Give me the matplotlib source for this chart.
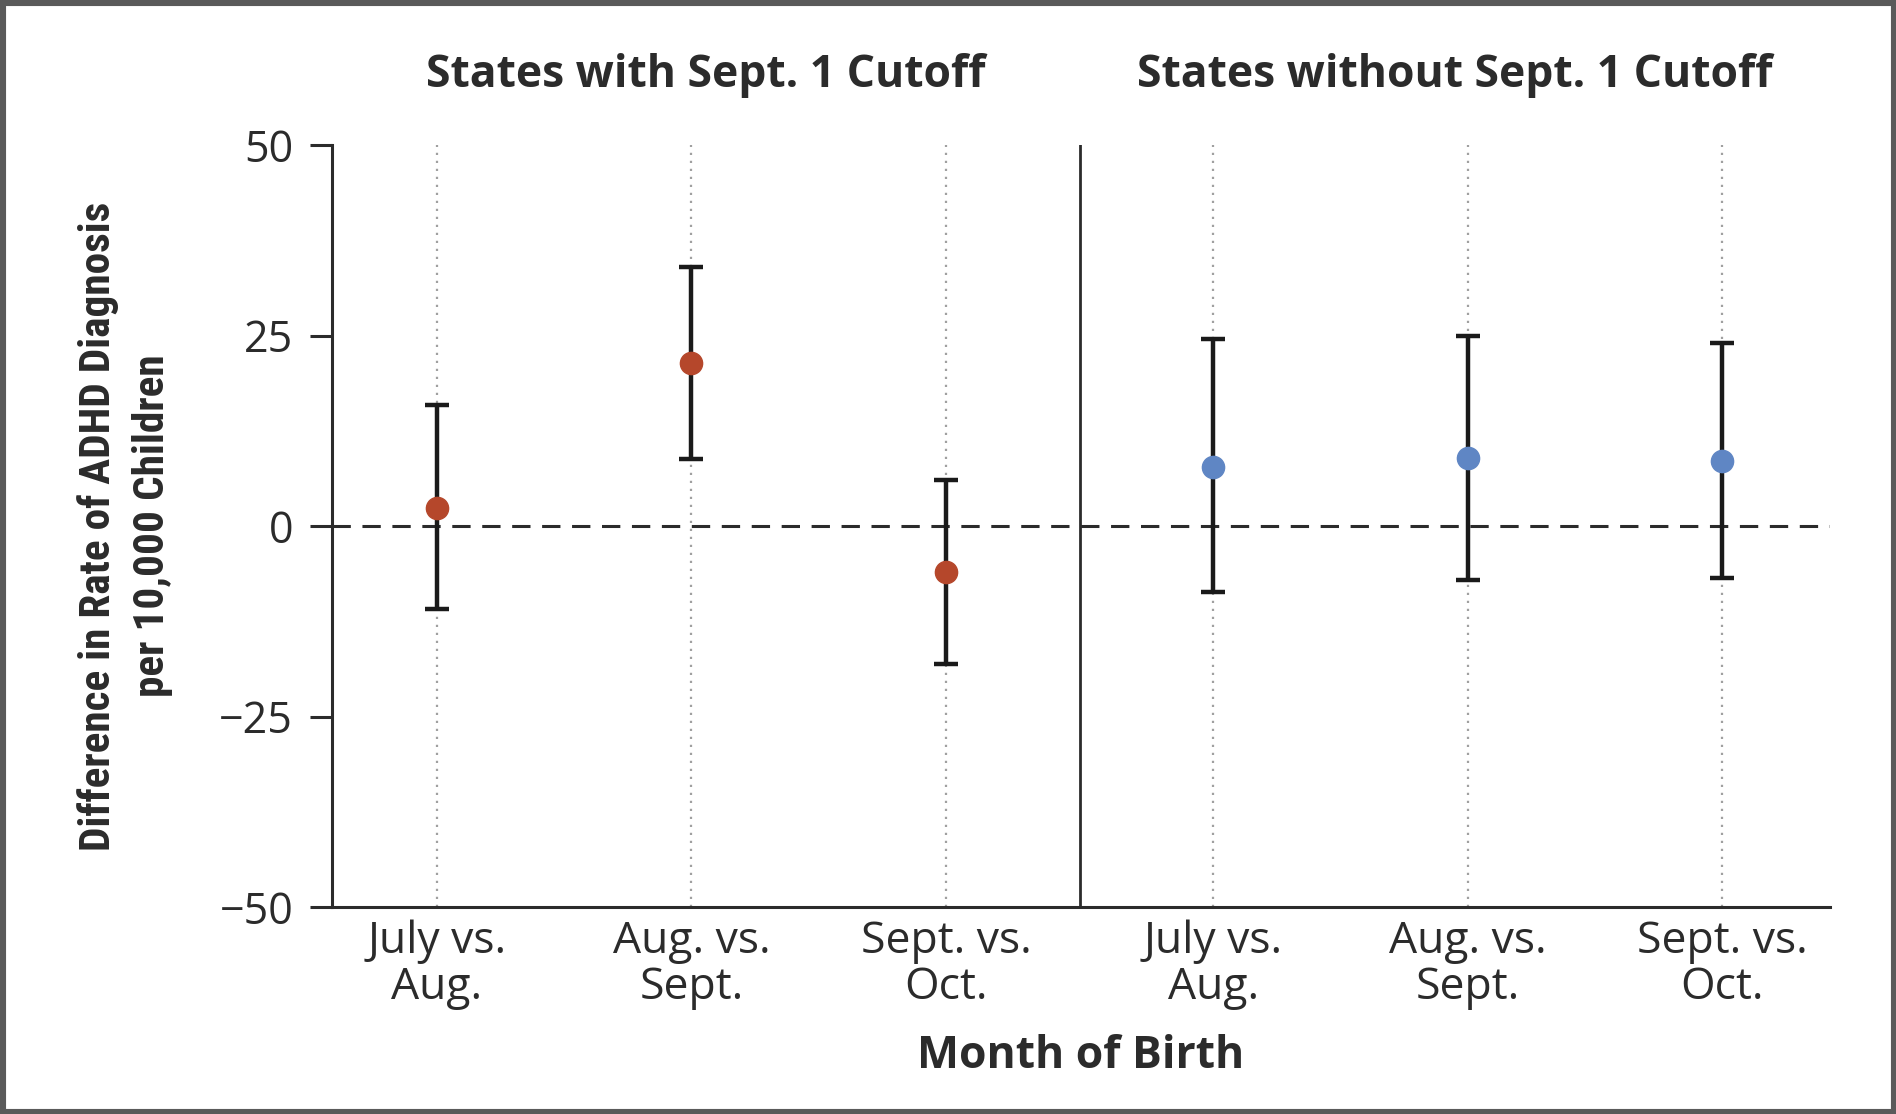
import numpy as np
import matplotlib
matplotlib.use("Agg")
import matplotlib.pyplot as plt
from matplotlib import font_manager, transforms
from matplotlib.patches import Rectangle

# Comparison categories (month of birth pairs)
categories = ["July vs.\nAug.", "Aug. vs.\nSept.", "Sept. vs.\nOct."]
group_titles = ["States with Sept. 1 Cutoff", "States without Sept. 1 Cutoff"]

# Difference in ADHD diagnosis rate per 10,000 children, with 95% CI
cutoff_est = [2.4, 21.4, -6.1]
cutoff_lo = [-10.9, 8.8, -18.1]
cutoff_hi = [15.9, 34.0, 6.0]

nocutoff_est = [7.8, 8.9, 8.5]
nocutoff_lo = [-8.7, -7.1, -6.8]
nocutoff_hi = [24.5, 25.0, 24.0]

y_ticks = [-50, -25, 0, 25, 50]
y_tick_labels = ["\u221250", "\u221225", "0", "25", "50"]

red = "#B5472B"
blue = "#5F86C4"
ink = "#2b2b2b"


def condensed_bold_font():
    """Pick a narrow bold face for the y-axis title if one is installed."""
    fonts = font_manager.fontManager.ttflist
    for want in ["Roboto Condensed", "Liberation Sans Narrow", "Open Sans Condensed",
                 "DejaVu Sans Condensed"]:
        for f in fonts:
            if f.name == want:
                return font_manager.FontProperties(fname=f.fname) if "Bold" in f.fname else \
                    font_manager.FontProperties(family=want, weight="bold")
    for f in fonts:
        if f.name.startswith("DejaVu Sans") and "Condensed-Bold." in f.fname:
            return font_manager.FontProperties(fname=f.fname)
    for f in fonts:
        if ("Condensed" in f.fname or "Narrow" in f.fname) and "Bold" in f.fname \
                and "Oblique" not in f.fname and "Italic" not in f.fname:
            return font_manager.FontProperties(fname=f.fname)
    return font_manager.FontProperties(family="DejaVu Sans", weight="bold",
                                       stretch="condensed")


W, H, DPI = 1896, 1114, 100
fig = plt.figure(figsize=(W / DPI, H / DPI), dpi=DPI, facecolor="white")
ax = fig.add_axes([332 / W, 1 - 907 / H, (1830 - 332) / W, (907 - 145) / H])

group_gap = 0.05
x_left = np.arange(3)
x_right = np.arange(3) + 3 + group_gap
divider = (x_left[-1] + x_right[0]) / 2
x_min, x_max = -0.4126, 5.474

ax.set_xlim(x_min, x_max)
ax.set_ylim(-50, 50)

# light dotted guides at each category
for x in np.concatenate([x_left, x_right]):
    ax.plot([x, x], [-50, 50], color="#a0a0a0", lw=1.6, ls=(0, (1, 2.6)), zorder=1)

# reference line at zero and panel divider
ax.axhline(0, color=ink, lw=2.2, ls=(0, (6, 3.8)), zorder=2)
ax.axvline(divider, color=ink, lw=2.0, zorder=2)


def draw_group(xs, est, lo, hi, color):
    est = np.asarray(est)
    yerr = np.vstack([est - np.asarray(lo), np.asarray(hi) - est])
    ax.errorbar(xs, est, yerr=yerr, fmt="none", ecolor="#1a1a1a",
                elinewidth=3.2, capsize=8.5, capthick=3.2, zorder=3)
    ax.plot(xs, est, "o", ms=16, color=color, mec=color, zorder=4)


draw_group(x_left, cutoff_est, cutoff_lo, cutoff_hi, red)
draw_group(x_right, nocutoff_est, nocutoff_lo, nocutoff_hi, blue)

for s in ["top", "right"]:
    ax.spines[s].set_visible(False)
for s in ["left", "bottom"]:
    ax.spines[s].set_linewidth(2.2)
    ax.spines[s].set_color(ink)

ax.set_yticks(y_ticks)
ax.set_yticklabels(y_tick_labels, family="Open Sans", size=31, color=ink)
ax.tick_params(axis="y", length=16, width=2.2, color=ink, pad=12)
ax.set_xticks(np.concatenate([x_left, x_right]))
ax.set_xticklabels(categories * 2, family="Open Sans", size=32, color=ink,
                   linespacing=1.05)
ax.tick_params(axis="x", length=0, pad=9)

# group headings
blend = transforms.blended_transform_factory(ax.transData, fig.transFigure)
centers = [(x_min + divider) / 2, (divider + x_max) / 2]
for cx, t in zip(centers, group_titles):
    ax.text(cx, 1 - 75 / H, t, transform=blend, ha="center", va="center",
            family="Open Sans", weight="bold", size=32, color=ink)

fig.text((332 + 1830) / 2 / W, 1 - 1057 / H, "Month of Birth", ha="center",
         va="center", family="Open Sans", weight="bold", size=32, color=ink)

# y-axis title, sized so its longest line spans the plotted range
ylab_fp = condensed_bold_font()
ylab_fp.set_size(28)
ylab = fig.text(125 / W, 1 - 526 / H,
                "Difference in Rate of ADHD Diagnosis\nper 10,000 Children",
                rotation=90, ha="center", va="center", fontproperties=ylab_fp,
                color=ink, linespacing=1.4)
renderer = fig.canvas.get_renderer()
ext = ylab.get_window_extent(renderer)
ylab_fp.set_size(28 * 650 / ext.height)
ylab.set_fontproperties(ylab_fp)

# outer frame
fig.patches.append(Rectangle((0, 0), 1, 1, transform=fig.transFigure,
                             fill=False, edgecolor="#5a5a5a", lw=8, zorder=10))

fig.savefig("out.png", dpi=DPI, facecolor="white")
